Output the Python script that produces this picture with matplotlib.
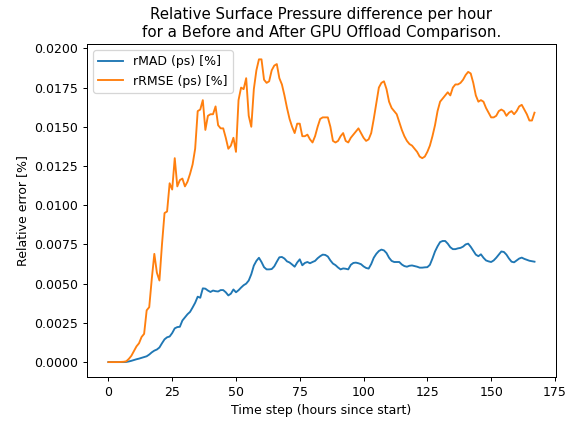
import numpy as np
import matplotlib.pyplot as plt

hours = np.arange(168)

rmad = [
    0, 0, 0, 0, 0, 0, 0, 0.00001, 0.00004, 0.00008,
    0.00013, 0.00018, 0.00022, 0.00027, 0.00032, 0.00037, 0.00048, 0.00062, 0.00073, 0.00080,
    0.00093, 0.00120, 0.00145, 0.00158, 0.00163, 0.00185, 0.00215, 0.00223, 0.00225, 0.00265,
    0.00285, 0.00305, 0.00320, 0.00348, 0.00378, 0.00417, 0.00410, 0.00470, 0.00468, 0.00456,
    0.00447, 0.00456, 0.00452, 0.00450, 0.00459, 0.00459, 0.00445, 0.00425, 0.00436, 0.00463,
    0.00445, 0.00458, 0.00475, 0.00490, 0.00500, 0.00520, 0.00560, 0.00615, 0.00645, 0.00665,
    0.00638, 0.00605, 0.00591, 0.00591, 0.00593, 0.00610, 0.00640, 0.00668, 0.00670, 0.00660,
    0.00642, 0.00635, 0.00622, 0.00608, 0.00635, 0.00655, 0.00617, 0.00632, 0.00638, 0.00630,
    0.00638, 0.00645, 0.00662, 0.00675, 0.00685, 0.00683, 0.00673, 0.00648, 0.00628, 0.00618,
    0.00603, 0.00591, 0.00597, 0.00595, 0.00591, 0.00620, 0.00632, 0.00634, 0.00630, 0.00624,
    0.00610, 0.00600, 0.00596, 0.00625, 0.00665, 0.00690, 0.00708, 0.00717, 0.00712, 0.00695,
    0.00665, 0.00645, 0.00638, 0.00638, 0.00638, 0.00622, 0.00612, 0.00608, 0.00614, 0.00616,
    0.00612, 0.00608, 0.00602, 0.00602, 0.00604, 0.00605, 0.00620, 0.00660, 0.00705, 0.00738,
    0.00765, 0.00772, 0.00772, 0.00755, 0.00732, 0.00720, 0.00720, 0.00725, 0.00728, 0.00736,
    0.00750, 0.00755, 0.00735, 0.00710, 0.00685, 0.00675, 0.00687, 0.00665, 0.00648, 0.00642,
    0.00638, 0.00648, 0.00665, 0.00685, 0.00705, 0.00702, 0.00685, 0.00660, 0.00640, 0.00636,
    0.00648, 0.00660, 0.00666, 0.00658, 0.00652, 0.00646, 0.00643, 0.00640,
]

rrmse = [
    0, 0, 0, 0, 0, 0.00001, 0.00002, 0.00005, 0.0002, 0.0004,
    0.0007, 0.0010, 0.0012, 0.0016, 0.0018, 0.0033, 0.0035, 0.0053, 0.0069, 0.0057,
    0.0052, 0.0075, 0.0095, 0.0096, 0.0114, 0.0110, 0.0130, 0.0112, 0.0116, 0.0117,
    0.0112, 0.0115, 0.0120, 0.0126, 0.0136, 0.0160, 0.0161, 0.0167, 0.0148, 0.0157,
    0.0158, 0.0158, 0.0163, 0.0151, 0.0149, 0.0149, 0.0143, 0.0136, 0.0138, 0.0143,
    0.0134, 0.0167, 0.0175, 0.0174, 0.0181, 0.0157, 0.0150, 0.0174, 0.0186, 0.0193,
    0.0193, 0.0180, 0.0178, 0.0179, 0.0186, 0.0189, 0.0190, 0.0181, 0.0177, 0.0170,
    0.0162, 0.0155, 0.0150, 0.0146, 0.0152, 0.0152, 0.0144, 0.0144, 0.0145, 0.0142,
    0.0140, 0.0144, 0.0150, 0.0155, 0.0156, 0.0156, 0.0156, 0.0150, 0.0141, 0.0140,
    0.0141, 0.0144, 0.0146, 0.0141, 0.0140, 0.0143, 0.0145, 0.0147, 0.0149, 0.0146,
    0.0143, 0.0141, 0.0142, 0.0146, 0.0155, 0.0165, 0.0175, 0.0178, 0.0179, 0.0174,
    0.0166, 0.0162, 0.0160, 0.0158, 0.0153, 0.0148, 0.0144, 0.0141, 0.0139, 0.0138,
    0.0136, 0.0134, 0.0131, 0.0130, 0.0131, 0.0134, 0.0138, 0.0144, 0.0151, 0.0160,
    0.0166, 0.0168, 0.0170, 0.0172, 0.0170, 0.0175, 0.0177, 0.0177, 0.0178, 0.0180,
    0.0183, 0.0185, 0.0184, 0.0178, 0.0170, 0.0166, 0.0167, 0.0166, 0.0162, 0.0159,
    0.0156, 0.0156, 0.0157, 0.0160, 0.0161, 0.0160, 0.0157, 0.0159, 0.0160, 0.0158,
    0.0160, 0.0163, 0.0164, 0.0161, 0.0158, 0.0154, 0.0154, 0.0159,
]

# drawn at 90 dpi so text and lines come out a little smaller
fig = plt.figure(figsize=(573 / 90, 421 / 90), dpi=90)
ax = fig.add_axes([0.152, 0.104, 0.818, 0.791])

ax.plot(hours, rmad, label='rMAD (ps) [%]')
ax.plot(hours, rrmse, label='rRMSE (ps) [%]')

ax.set_title("Relative Surface Pressure difference per hour\nfor a Before and After GPU Offload Comparison.")
ax.set_xlabel("Time step (hours since start)")
ax.set_ylabel("Relative error [%]")
ax.legend(loc='upper left')

fig.savefig("out.png", dpi=90)
